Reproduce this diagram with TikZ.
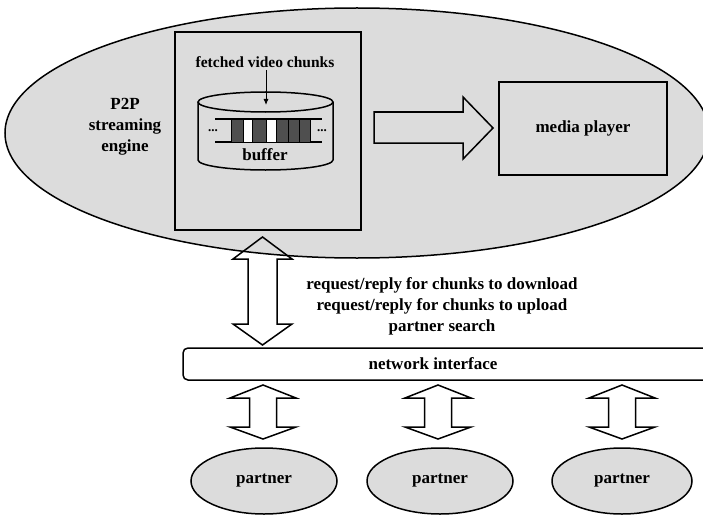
\documentclass[tikz,border=0pt]{standalone}
\usepackage{fontspec}
\setmainfont{Liberation Serif}
\usetikzlibrary{shapes.geometric,arrows.meta}
\definecolor{bggray}{HTML}{DCDCDC}
\definecolor{chunkc}{HTML}{4F4F4F}
\begin{document}
\begin{tikzpicture}[x=1pt,y=-1pt,line width=1.5pt,
  lbl/.style={font=\bfseries\fontsize{17}{21}\selectfont,inner sep=0pt,align=center},
  small/.style={font=\bfseries\fontsize{15.5}{18}\selectfont,inner sep=0pt,align=center},
  partnerstyle/.style={ellipse,draw,fill=bggray,minimum width=146pt,minimum height=66pt,lbl},
  blockarrow/.style={draw,line width=1.5pt,line join=miter}]
\useasboundingbox (0,0) rectangle (703,516);
\clip (0,0) rectangle (703,516);

% engine ellipse
\node[ellipse,draw,fill=bggray,minimum width=704pt,minimum height=250pt,inner sep=0pt] (engine) at (357,133) {};
\node[lbl] (enginetxt) at (125,127) {P2P\\streaming\\engine};

% buffer box
\node[draw,minimum width=186pt,minimum height=198pt,inner sep=0pt] (bufbox) at (268,131) {};
\node[small] (fetched) at (265,62) {fetched video chunks};

% cylinder
\draw[fill=bggray] (198,102) -- (198,160) arc[start angle=180,end angle=0,x radius=67.5,y radius=10] -- (333,102);
\draw (265.5,102) ellipse[x radius=67.5,y radius=10];
\coordinate (tip) at (266,105);
\draw[line width=0.9pt,-{Latex[length=6pt,width=5pt]}] (266,70) -- (tip);

% strip
\draw (215,119) -- (322,119);
\draw (215,142) -- (322,142);
\foreach \a/\b in {231/243.3,252.7/266.7,276/288.3,288.3/299.3,299.3/310}
  \draw[fill=chunkc,line width=1pt] (\a,119) rectangle (\b,142);
\foreach \a/\b in {243.3/252.7,266.7/276}
  \draw[fill=white,line width=1pt] (\a,119) rectangle (\b,142);
\node[font=\bfseries\fontsize{13}{13}\selectfont,inner sep=0pt] (dotl) at (213,131) {...};
\node[font=\bfseries\fontsize{13}{13}\selectfont,inner sep=0pt] (dotr) at (322,131) {...};
\node[lbl] (buftxt) at (265,155) {buffer};

% media player
\node[draw,minimum width=168pt,minimum height=93pt,lbl] (player) at (583,128.5) {media player};

% big right arrow
\draw[blockarrow] (374,112) -- (463,112) -- (463,97) -- (493,128) -- (463,159) -- (463,143) -- (374,143) -- cycle;

% vertical double arrow
\draw[blockarrow] (262.5,237) -- (292,259) -- (277,259) -- (277,324) -- (292,324) -- (262.5,345)
  -- (233,324) -- (248,324) -- (248,259) -- (233,259) -- cycle;

\node[lbl] (msgs) at (442,306) {request/reply for chunks to download\\request/reply for chunks to upload\\partner search};

% network interface
\node[draw,fill=white,rounded corners=5pt,minimum width=529pt,minimum height=32pt,inner sep=0pt] (net) at (447.5,364) {};
\node[lbl] (nettxt) at (433,364) {network interface};

% small double arrows
\foreach \c in {263,438,622}
  \draw[blockarrow] (\c,385) -- (\c+33,398) -- (\c+13.5,398) -- (\c+13.5,427) -- (\c+33,427) -- (\c,439)
    -- (\c-33,427) -- (\c-13.5,427) -- (\c-13.5,398) -- (\c-33,398) -- cycle;

% partners
\node[partnerstyle] (p1) at (264,481) {partner};
\node[partnerstyle] (p2) at (440,481) {partner};
\node[partnerstyle,minimum width=140pt] (p3) at (622,481) {partner};
\end{tikzpicture}
\end{document}
